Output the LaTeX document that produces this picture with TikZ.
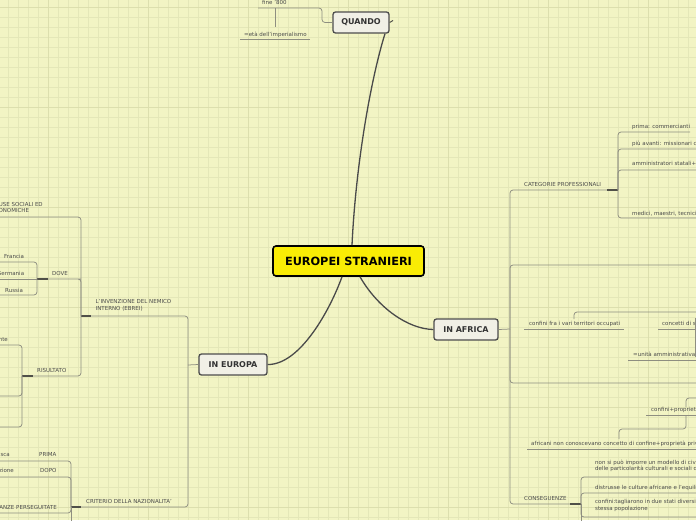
\documentclass[tikz,border=0pt]{standalone}
\usepackage{fontspec}
\setmainfont{DejaVu Sans}
\definecolor{bgc}{HTML}{F2F4C4}
\definecolor{gridc}{HTML}{E4E7B8}
\definecolor{gridb}{HTML}{DCDFAE}
\definecolor{linec}{HTML}{8E8E80}
\definecolor{stubc}{HTML}{505048}
\definecolor{curvec}{HTML}{4A4A4A}
\definecolor{txtc}{HTML}{4A4A4A}
\definecolor{boxf}{HTML}{F1F0E6}
\definecolor{boxb}{HTML}{4D4D4D}
\definecolor{rootfill}{HTML}{F9EC05}
\newcommand\mylbl{\fontsize{5.5}{7}\selectfont}
\newcommand\mytop{\fontsize{8}{9}\selectfont\bfseries}
\newcommand\myroot{\fontsize{11.3}{12}\selectfont\bfseries}
\tikzset{
  conn/.style={draw=linec, line width=0.75pt, rounded corners=3pt},
  stubline/.style={draw=stubc, line width=1.2pt},
  curveline/.style={draw=curvec, line width=1.3pt},
  lbl/.style={font=\mylbl, text=txtc, inner sep=0pt, anchor=base west},
  lble/.style={lbl, anchor=base east},
  lblm/.style={font=\mylbl, text=txtc, inner sep=0pt, anchor=north west, align=left},
  topic/.style={draw=boxb, line width=1.3pt, fill=boxf, rounded corners=2.5pt, font=\mytop, text=black!80, inner sep=0pt, minimum height=21pt},
  rootbox/.style={draw=black, line width=1.6pt, fill=rootfill, rounded corners=3pt, font=\myroot, inner sep=0pt, minimum width=151pt, minimum height=30pt},
}
\begin{document}
\begin{tikzpicture}[x=1pt,y=-1pt]
\clip (0,0) rectangle (696,520);
\fill[bgc] (0,0) rectangle (696,520);
\foreach \i in {8.3,18.3,...,698} \draw[gridc, line width=0.6pt] (\i,0) -- (\i,520);
\foreach \j in {7.3,17.3,...,520} \draw[gridc, line width=0.6pt] (0,\j) -- (696,\j);
\foreach \i in {48.3,148.3,...,698} \draw[gridb, line width=0.7pt] (\i,0) -- (\i,520);
\foreach \j in {7.3,107.3,...,520} \draw[gridb, line width=0.7pt] (0,\j) -- (696,\j);

% main nodes
\node[rootbox] (root) at (348.5,261) {EUROPEI STRANIERI};
\node[topic, minimum width=56pt] (quando) at (361,22.5) {QUANDO};
\node[topic, minimum width=68pt] (europa) at (233,364.5) {IN EUROPA};
\node[topic, minimum width=64pt] (africa) at (466,329.5) {IN AFRICA};

% main curves
\draw[curveline] ([xshift=3.5pt]root.north) .. controls (356,160) and (372,75) .. ([xshift=24pt]quando.south);
\draw[curveline] ([xshift=-6.5pt]root.south) .. controls (330,310) and (300,365) .. (europa.east);
\draw[curveline] ([xshift=11.5pt]root.south) .. controls (378,308) and (408,329) .. (africa.west);

% ---------------- QUANDO ----------------
\node[lbl] (fine) at (262,4) {fine '800};
\node[lbl] (eta) at (244,36) {=età dell'imperialismo};
\coordinate (q1) at (322,8);
\draw[conn] (quando.west) -| (q1) -- (258,8);
\draw[conn] (275,8) -- (275,27);
\draw[conn] (240,39) -- (310,39);
\draw[stubline, line width=1pt] (quando.east) -- (393,20.5);

% ---------------- IN EUROPA ----------------
\coordinate (ej) at (188,365);
\draw[conn] (europa.west) -- (ej);
\node[lblm] (inv) at (95.5,299.5) {L'INVENZIONE DEL NEMICO\\[-0.6pt]INTERNO (EBREI)};
\node[lbl] (crit) at (86,503) {CRITERIO DELLA NAZIONALITA'};
\draw[conn] (ej) |- (81,316);
\draw[conn] (ej) |- (81,507);

% invenzione children
\coordinate (ij) at (81,316);
\draw[stubline] (ij) -- (91,316);
\node[lblm] (cause) at (-9,202.5) {CAUSE SOCIALI ED\\[-0.8pt]ECONOMICHE};
\node[lbl] (dove) at (52,275) {DOVE};
\node[lbl] (ris) at (37,372) {RISULTATO};
\draw[conn] (ij) |- (0,217);
\draw[conn] (ij) |- (37,279) -- (81,279);
\draw[conn] (ij) |- (22,376);

% dove children
\coordinate (dj) at (37,279);
\draw[stubline] (dj) -- (48,279);
\node[lbl] (fra) at (4,258) {Francia};
\node[lbl] (ger) at (-3,275) {Germania};
\node[lbl] (rus) at (5,292) {Russia};
\draw[conn] (dj) |- (0,262);
\draw[conn] (dj) -- (0,279);
\draw[conn] (dj) |- (0,295);

% risultato children
\coordinate (rj) at (22,376);
\draw[stubline] (rj) -- (33,376);
\node[lble] (nte) at (8,341) {nte};
\draw[conn] (rj) |- (0,345);
\draw[conn] (rj) |- (0,396);
\draw[conn] (rj) |- (0,427);

% criterio children
\coordinate (cj) at (71,507);
\draw[stubline] (cj) -- (81,507);
\node[lble] (sca) at (10,456) {sca};
\node[lbl] (prima) at (39,456) {PRIMA};
\node[lble] (zione) at (14,472) {zione};
\node[lbl] (dopo) at (40,472) {DOPO};
\node[lble] (pers) at (57,509) {MINORANZE PERSEGUITATE};
\draw[conn] (cj) |- (0,461);
\draw[conn] (cj) |- (0,477);
\draw[conn] (cj) |- (0,513);
\draw[conn] (cj) -- (71,525);

% ---------------- IN AFRICA ----------------
\coordinate (aj) at (510,329);
\draw[conn] (africa.east) -- (aj);
\node[lbl] (cat) at (524,186) {CATEGORIE PROFESSIONALI};
\node[lbl] (cons) at (524,500) {CONSEGUENZE};
\draw[conn] (aj) |- (618,190);
\draw[conn] (aj) |- (700,265);
\draw[conn] (aj) |- (700,383);
\draw[conn] (aj) |- (581,504);

% categorie children
\coordinate (kj) at (618,190);
\draw[stubline] (607,190) -- (kj);
\node[lbl] (k1) at (632,128) {prima: commercianti};
\node[lbl] (k2) at (632,145) {più avanti: missionari cristiani};
\node[lbl] (k3) at (632,165) {amministratori statali+militari};
\node[lbl] (k4) at (632,215) {medici, maestri, tecnici};
\draw[conn] (kj) |- (690,132);
\draw[conn] (kj) |- (700,149);
\draw[conn] (kj) |- (700,170);
\draw[conn] (kj) |- (700,218);

% inner box content
\node[lbl] (conf) at (529,325) {confini fra i vari territori occupati};
\node[lbl] (conc) at (662,325) {concetti di stato};
\node[lbl] (unita) at (633,356) {=unità amministrativa-politica};
\draw[conn] (524,329) -- (624,329);
\draw[conn] (574,319) |- (700,312);
\draw[conn] (658,329) -- (700,329);
\draw[conn] (695.5,318) -- (695.5,357);
\draw[conn] (628,360) -- (700,360);

% confini+proprieta group
\node[lbl] (cp) at (651,411) {confini+proprietà privata};
\node[lbl] (afr) at (531,445) {africani non conoscevano concetto di confine+proprietà privata};
\draw[conn] (686,407) |- (700,398);
\draw[conn] (646,415) -- (700,415);
\draw[conn] (686,415) -- (686,429) -| (619,439);
\draw[conn] (527,449) -- (700,449);

% conseguenze children
\coordinate (sj) at (581,504);
\draw[stubline] (570,504) -- (sj);
\node[lblm] (s1) at (595,459.5) {non si può imporre un modello di civiltà\\[-0.6pt]delle particolarità culturali e sociali di};
\node[lbl] (s2) at (595,489) {distrusse le culture africane e l'equilibrio};
\node[lblm] (s3) at (595,499.5) {confini:tagliarono in due stati diversi\\[-0.6pt]stessa popolazione};
\draw[conn] (sj) |- (700,477);
\draw[conn] (sj) |- (700,493);
\draw[conn] (sj) |- (700,517);
\draw[conn] (sj) -- (581,525);
\end{tikzpicture}
\end{document}
